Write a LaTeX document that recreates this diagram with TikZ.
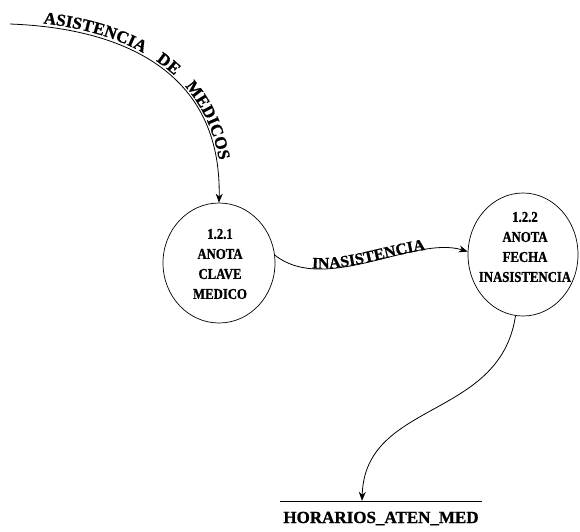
\documentclass[tikz,border=0pt]{standalone}
\usepackage{fontspec}
\setmainfont{Liberation Serif}[BoldFeatures={FakeBold=1}]
\newfontfamily\procfont{Liberation Serif}[FakeStretch=0.85, BoldFeatures={FakeBold=1}]
\usetikzlibrary{shapes.geometric,decorations.text,arrows.meta,calc}
\newcommand\flowlabelfont{\bfseries\fontsize{16}{18}\selectfont}
\newcommand\inflowfont{\bfseries\fontsize{17}{19}\selectfont}
\begin{document}
\begin{tikzpicture}[x=1pt,y=-1pt,
  proc/.style={draw, ellipse, line width=0.7pt, inner sep=0pt},
  proctext/.style={align=center, inner sep=0pt,
    font=\procfont\bfseries\fontsize{15}{20}\selectfont},
  flow/.style={line width=0.8pt, -{Stealth[length=9pt,width=7pt]}},
  storetext/.style={font=\bfseries\fontsize{17}{20}\selectfont, inner sep=0pt,
    minimum width=202pt, text height=22pt, text depth=3pt, anchor=base}
]
\useasboundingbox (0,0) rectangle (580,531);

% processes
\node[proc, minimum width=112pt, minimum height=120pt] (p1) at (219,263) {};
\node[proctext] (t1) at (220,264) {1.2.1\\ANOTA\\CLAVE\\MEDICO};
\node[proc, minimum width=110pt, minimum height=123pt] (p2) at (523,254.5) {};
\node[proctext] (t2) at (525,247) {1.2.2\\ANOTA\\FECHA\\INASISTENCIA};

% data store
\node[storetext] (store) at (381,523) {HORARIOS\_ATEN\_MED};
\draw[line width=0.6pt] (store.north west) -- (store.north east);

% incoming flow
\coordinate (src) at (10,24);
\draw[flow, postaction={decorate, decoration={text along path,
    text={|\inflowfont|ASISTENCIA DE MEDICOS},
    text align={left indent=33pt, right indent=42pt, fit to path stretching spaces},
    raise=3pt}}]
  (src) .. controls (120,28) and (222,70) .. (p1.north);

% flow between processes
\draw[flow, postaction={decorate, decoration={text along path,
    text={|\flowlabelfont|INASISTENCIA},
    text align={left indent=40pt}, raise=0.5pt}}]
  (p1.8) .. controls (325,295) and (415,235) .. (p2.177);

% flow to the store
\draw[flow] (p2.-97) .. controls (500,420) and (365,400) .. ($(store.north)+(-19,0)$);
\end{tikzpicture}
\end{document}
